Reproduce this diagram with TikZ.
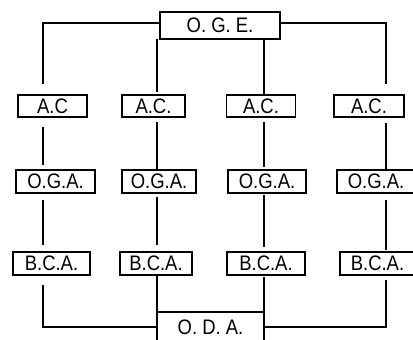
\documentclass[tikz,border=0pt]{standalone}
\usepackage{fontspec}
\setmainfont[FakeStretch=0.88]{Liberation Sans}
\begin{document}
\begin{tikzpicture}[x=1pt,y=-1pt,
  box/.style={draw, line width=1.2pt, inner sep=0pt, outer sep=0pt, font=\fontsize{21}{24}\selectfont},
  link/.style={line width=1.2pt}]
\useasboundingbox (0,0) rectangle (413,340);
% boxes: center, width, height
\node[box, minimum width=120, minimum height=27] (oge) at (220,25.5) {O. G. E.};
\node[box, minimum width=69, minimum height=22] (ac1) at (52.5,106) {A.C};
\node[box, minimum width=63, minimum height=22] (ac2) at (153.5,106) {A.C.};
\node[box, minimum width=69, minimum height=22] (ac3) at (261,106) {A.C.};
\node[box, minimum width=70, minimum height=22] (ac4) at (369,106) {A.C.};
\node[box, minimum width=79, minimum height=23] (oga1) at (55.5,181.5) {O.G.A.};
\node[box, minimum width=74, minimum height=23] (oga2) at (159,181.5) {O.G.A.};
\node[box, minimum width=78, minimum height=23] (oga3) at (267,181.5) {O.G.A.};
\node[box, minimum width=78, minimum height=23] (oga4) at (376,181.5) {O.G.A.};
\node[box, minimum width=77, minimum height=23] (bca1) at (51.5,263.5) {B.C.A.};
\node[box, minimum width=72, minimum height=23] (bca2) at (156,263.5) {B.C.A.};
\node[box, minimum width=78, minimum height=23] (bca3) at (266,263.5) {B.C.A.};
\node[box, minimum width=75, minimum height=23] (bca4) at (377.5,263.5) {B.C.A.};
\node[box, draw=none, minimum width=107, minimum height=30] (oda) at (210.5,327) {O. D. A.};
\draw[link] (oda.south west) -- (oda.north west) -- (oda.north east) -- (oda.south east);
% column x positions
\coordinate (x1) at (43,0);
\coordinate (x2) at (157,0);
\coordinate (x3) at (264,0);
\coordinate (x4) at (386,0);
% top connectors
\draw[link, shorten <=11] (ac1.north -| x1) |- ([yshift=2.5]oge.west);
\draw[link, shorten <=11] (ac4.north -| x4) |- ([yshift=2.5]oge.east);
\draw[link, shorten >=3] (oge.south -| x2) -- (ac2.north -| x2);
\draw[link] (oge.south -| x3) -- (ac3.north -| x3);
% AC to OGA
\draw[link, shorten <=10, shorten >=5] (ac1.south -| x1) -- (oga1.north -| x1);
\draw[link, shorten <=5] (ac2.south -| x2) -- (oga2.north -| x2);
\draw[link, shorten <=5, shorten >=3] (ac3.south -| x3) -- (oga3.north -| x3);
\draw[link, shorten <=6] (ac4.south -| x4) -- (oga4.north -| x4);
% OGA to BCA
\draw[link, shorten <=7, shorten >=7] (oga1.south -| x1) -- (bca1.north -| x1);
\draw[link, shorten <=4, shorten >=7] (oga2.south -| x2) -- (bca2.north -| x2);
\draw[link, shorten <=2, shorten >=5] (oga3.south -| x3) -- (bca3.north -| x3);
\draw[link, shorten <=7, shorten >=2] (oga4.south -| x4) -- (bca4.north -| x4);
% bottom connectors
\draw[link, shorten <=10] (bca1.south -| x1) |- (oda.west);
\draw[link, shorten <=5] (bca4.south -| x4) |- (oda.east);
\draw[link] (bca2.south -| x2) -- (oda.north west);
\draw[link, shorten <=2] (bca3.south -| x3) -- (oda.north east);
\end{tikzpicture}
\end{document}
